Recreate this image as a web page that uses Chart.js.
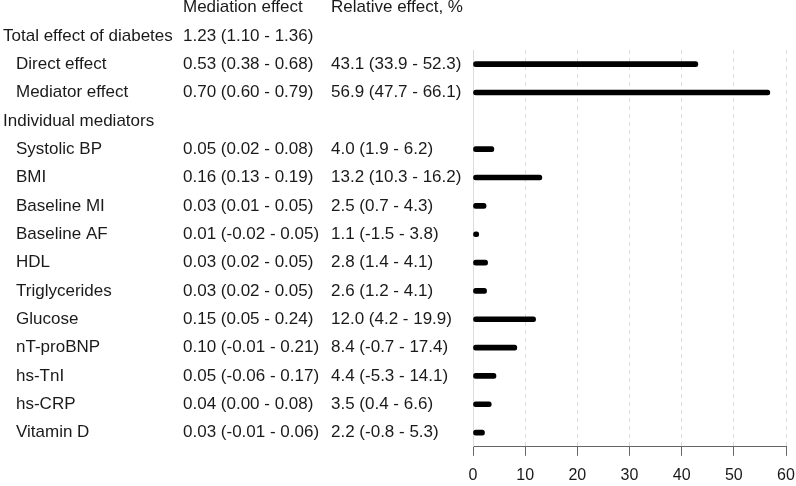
<!DOCTYPE html>
<html>
<head>
<meta charset="utf-8">
<script src="https://cdn.jsdelivr.net/npm/chart.js@4"></script>
<style>
  html, body { margin: 0; padding: 0; background: #fff; }
  #wrap { width: 796px; height: 486px; position: relative; }
</style>
</head>
<body>
<div id="wrap"><canvas id="mediationChart"></canvas></div>
<script>
// rows of the table, top to bottom
var rowLabels = ['Total effect of diabetes', 'Direct effect', 'Mediator effect', 'Individual mediators',
  'Systolic BP', 'BMI', 'Baseline MI', 'Baseline AF', 'HDL', 'Triglycerides', 'Glucose',
  'nT-proBNP', 'hs-TnI', 'hs-CRP', 'Vitamin D'];
var groupRows = ['Total effect of diabetes', 'Individual mediators'];
var mediationEffect = ['1.23 (1.10 - 1.36)', '0.53 (0.38 - 0.68)', '0.70 (0.60 - 0.79)', '',
  '0.05 (0.02 - 0.08)', '0.16 (0.13 - 0.19)', '0.03 (0.01 - 0.05)', '0.01 (-0.02 - 0.05)',
  '0.03 (0.02 - 0.05)', '0.03 (0.02 - 0.05)', '0.15 (0.05 - 0.24)', '0.10 (-0.01 - 0.21)',
  '0.05 (-0.06 - 0.17)', '0.04 (0.00 - 0.08)', '0.03 (-0.01 - 0.06)'];
var relativeEffect = ['', '43.1 (33.9 - 52.3)', '56.9 (47.7 - 66.1)', '',
  '4.0 (1.9 - 6.2)', '13.2 (10.3 - 16.2)', '2.5 (0.7 - 4.3)', '1.1 (-1.5 - 3.8)',
  '2.8 (1.4 - 4.1)', '2.6 (1.2 - 4.1)', '12.0 (4.2 - 19.9)', '8.4 (-0.7 - 17.4)',
  '4.4 (-5.3 - 14.1)', '3.5 (0.4 - 6.6)', '2.2 (-0.8 - 5.3)'];
var relativePct = [null, 43.1, 56.9, null, 4.0, 13.2, 2.5, 1.1, 2.8, 2.6, 12.0, 8.4, 4.4, 3.5, 2.2];
var headers = ['Mediation effect', 'Relative effect, %'];
var xMin = 0, xMax = 60, xStep = 10;

const textFont = '17px "Liberation Sans", Arial, sans-serif';
const textColor = '#1a1a1a';

// table text drawn beside the bars, rows placed by the y scale
const tablePlugin = {
  id: 'tableText',
  beforeDatasetsDraw(chart) {
    // solid zero line
    const ctx = chart.ctx;
    const x0 = chart.scales.x.getPixelForValue(0);
    ctx.save();
    ctx.strokeStyle = '#dcdcdc';
    ctx.lineWidth = 1;
    ctx.beginPath();
    ctx.moveTo(Math.round(x0) + 0.5, chart.chartArea.top);
    ctx.lineTo(Math.round(x0) + 0.5, chart.chartArea.bottom);
    ctx.stroke();
    ctx.restore();
  },
  afterDraw(chart) {
    const ctx = chart.ctx;
    const y = chart.scales.y;
    ctx.save();
    ctx.font = textFont;
    ctx.fillStyle = textColor;
    ctx.textBaseline = 'middle';
    ctx.textAlign = 'left';
    const hy = y.getPixelForValue(-1);
    ctx.fillText(headers[0], 183, hy);
    ctx.fillText(headers[1], 331, hy);
    for (let i = 0; i < rowLabels.length; i++) {
      const py = y.getPixelForValue(i);
      const lx = groupRows.includes(rowLabels[i]) ? 3 : 16;
      ctx.fillText(rowLabels[i], lx, py);
      if (mediationEffect[i]) ctx.fillText(mediationEffect[i], 183, py);
      if (relativeEffect[i]) ctx.fillText(relativeEffect[i], 331, py);
    }
    ctx.restore();
  }
};

var ctx = document.getElementById('mediationChart').getContext('2d');
var myChart = new Chart(ctx, {
  type: 'bar',
  data: {
    labels: rowLabels,
    datasets: [{
      data: relativePct,
      backgroundColor: '#000',
      barThickness: 5,
      borderRadius: 3,
      borderSkipped: false
    }]
  },
  options: {
    indexAxis: 'y',
    responsive: true,
    maintainAspectRatio: false,
    animation: false,
    layout: { padding: { left: 473, right: 0, top: 50, bottom: -9 } },
    plugins: { legend: { display: false }, tooltip: { enabled: false } },
    scales: {
      y: {
        type: 'category',
        min: rowLabels[1],
        display: false,
        offset: true
      },
      x: {
        type: 'linear',
        min: xMin,
        max: xMax,
        afterFit: function (scale) {
          // keep the 60 tick close to the right edge
          scale.paddingRight = 10;
        },
        ticks: {
          stepSize: xStep,
          color: textColor,
          padding: 10,
          maxRotation: 0,
          font: { family: '"Liberation Sans", Arial, sans-serif', size: 16 }
        },
        grid: {
          color: '#dcdcdc',
          lineWidth: 1,
          tickColor: '#666',
          tickLength: 9
        },
        border: { display: true, color: '#666', width: 1, dash: [4, 4] }
      }
    }
  },
  plugins: [tablePlugin]
});
</script>
</body>
</html>
